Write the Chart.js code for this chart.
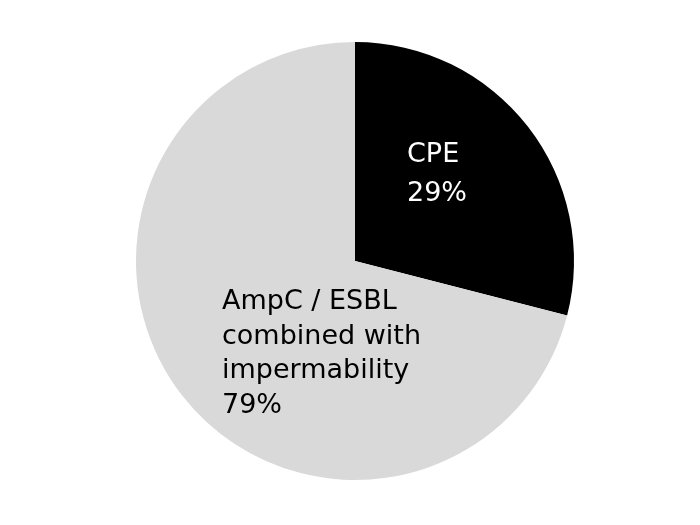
<!DOCTYPE html>
<html>
<head>
<meta charset="utf-8">
<script src="https://cdn.jsdelivr.net/npm/chart.js@4/dist/chart.umd.min.js"></script>
<style>
html,body{margin:0;padding:0;background:#fff;}
#wrap{width:700px;height:525px;position:relative;}
</style>
</head>
<body>
<div id="wrap"><canvas id="c" width="700" height="525"></canvas></div>
<script>
// Data
const categories = ["CPE", "AmpC / ESBL combined with impermability"];
const values = [29, 71];
const labelLines = [["CPE", "29%"], ["AmpC / ESBL", "combined with", "impermability", "79%"]];
const colors = ["#000000", "#d9d9d9"];
const textColors = ["#ffffff", "#000000"];

// label placement relative to pie center, in fractions of the radius
const labelPlacement = [
  {dx: 52/219, baselines: [-99/219, -60/219]},
  {dx: -133/219, baselines: [48/219, 83/219, 117/219, 152/219]}
];

const labelPlugin = {
  id: 'sliceLabels',
  afterDatasetsDraw(chart) {
    const ctx = chart.ctx;
    const meta = chart.getDatasetMeta(0);
    ctx.save();
    ctx.font = '27px "DejaVu Sans", Verdana, sans-serif';
    ctx.textAlign = 'left';
    ctx.textBaseline = 'alphabetic';
    meta.data.forEach((arc, i) => {
      const r = arc.outerRadius;
      const p = labelPlacement[i];
      ctx.fillStyle = textColors[i];
      labelLines[i].forEach((line, j) => {
        ctx.fillText(line, arc.x + p.dx * r, arc.y + p.baselines[j] * r);
      });
    });
    ctx.restore();
  }
};

new Chart(document.getElementById('c'), {
  type: 'pie',
  data: {
    labels: categories,
    datasets: [{
      data: values,
      backgroundColor: colors,
      borderWidth: 0,
      hoverOffset: 0
    }]
  },
  options: {
    responsive: false,
    animation: false,
    layout: {padding: {top: 42, bottom: 45, left: 10, right: 0}},
    plugins: {
      legend: {display: false},
      tooltip: {enabled: false}
    }
  },
  plugins: [labelPlugin]
});
</script>
</body>
</html>
